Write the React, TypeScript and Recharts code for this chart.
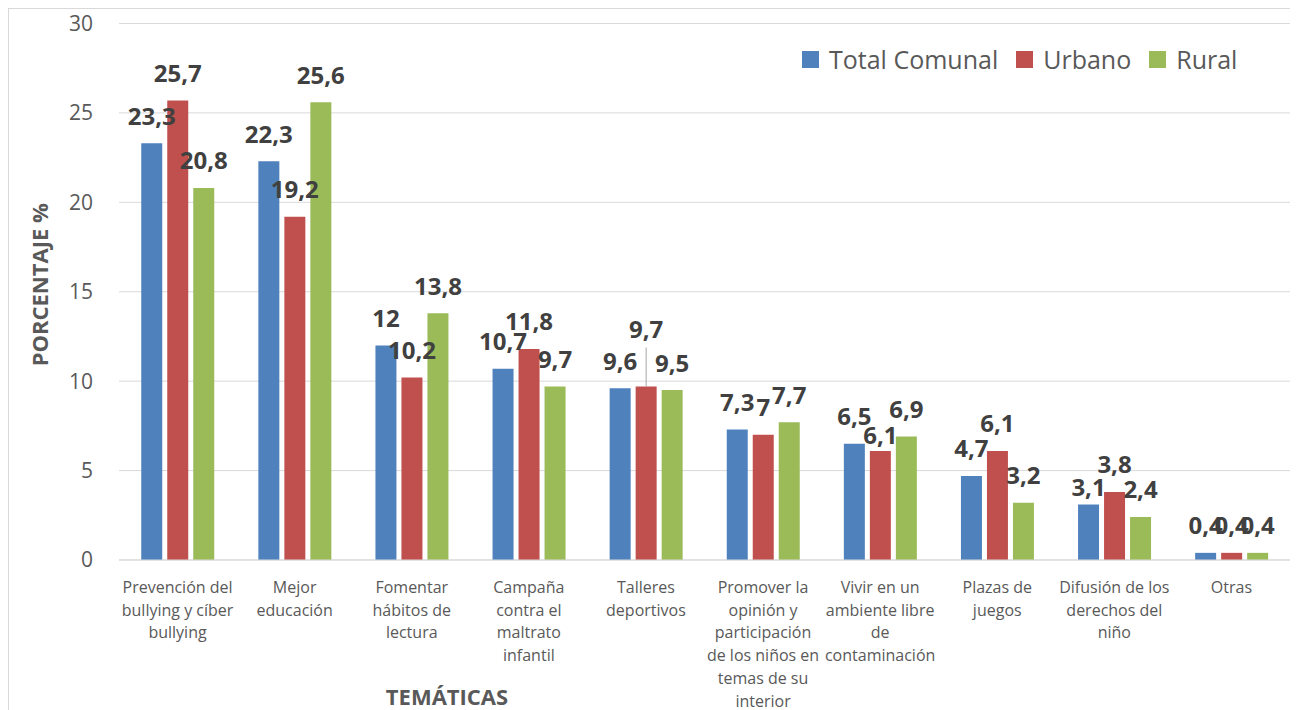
import { BarChart, Bar, XAxis, YAxis, CartesianGrid, LabelList, Label } from 'recharts';

const categories = [
  'Prevención del\nbullying y cíber\nbullying',
  'Mejor\neducación',
  'Fomentar\nhábitos de\nlectura',
  'Campaña\ncontra el\nmaltrato\ninfantil',
  'Talleres\ndeportivos',
  'Promover la\nopinión y\nparticipación\nde los niños en\ntemas de su\ninterior',
  'Vivir en un\nambiente libre\nde\ncontaminación',
  'Plazas de\njuegos',
  'Difusión de los\nderechos del\nniño',
  'Otras',
];

const totalComunal = [23.3, 22.3, 12, 10.7, 9.6, 7.3, 6.5, 4.7, 3.1, 0.4];
const urbano = [25.7, 19.2, 10.2, 11.8, 9.7, 7, 6.1, 6.1, 3.8, 0.4];
const rural = [20.8, 25.6, 13.8, 9.7, 9.5, 7.7, 6.9, 3.2, 2.4, 0.4];

const yTicks = [0, 5, 10, 15, 20, 25, 30];

const data = categories.map((c, i) => ({
  name: c,
  total: totalComunal[i],
  urbano: urbano[i],
  rural: rural[i],
}));

const series = [
  { key: 'total', name: 'Total Comunal', color: '#4F81BD' },
  { key: 'urbano', name: 'Urbano', color: '#C0504D' },
  { key: 'rural', name: 'Rural', color: '#9BBB59' },
];

// labels that were moved by hand in the original (vertical shift, leader line)
const labelShift: Record<string, Record<number, { dy: number; leader?: boolean }>> = {
  urbano: { 4: { dy: -30, leader: true }, 6: { dy: 12 } },
  total: { 8: { dy: 10 } },
};

const FONT = '"Open Sans", "Noto Sans", sans-serif';
const fmt = (v: number) => String(v).replace('.', ',');

const makeLabel = (key: string) => (props: any) => {
  const { x, y, width, value, index } = props;
  const s = labelShift[key]?.[index];
  const cx = x + width / 2;
  const cy = y - 27 + (s ? s.dy : 0);
  return (
    <g>
      {s?.leader && <line x1={cx} x2={cx} y1={cy + 18} y2={y} stroke="#A6A6A6" strokeWidth={1} />}
      <text
        x={cx}
        y={cy}
        dy="0.35em"
        textAnchor="middle"
        fontFamily={FONT}
        fontWeight={700}
        fontSize={24}
        fill="#404040"
      >
        {fmt(value)}
      </text>
    </g>
  );
};

const CategoryTick = (props: any) => {
  const { x, y, payload } = props;
  const lines = String(payload.value).split('\n');
  return (
    <text x={x} y={y} textAnchor="middle" fontFamily={FONT} fontSize={16} fill="#595959">
      {lines.map((l, i) => (
        <tspan key={i} x={x} y={y + 33 + i * 22.7}>
          {l}
        </tspan>
      ))}
    </text>
  );
};

export default function App() {
  return (
    <div
      style={{
        width: 1282,
        height: 702,
        borderTop: '1px solid #D9D9D9',
        borderLeft: '1px solid #D9D9D9',
        borderRight: '1px solid #D9D9D9',
        position: 'relative',
        background: '#fff',
      }}
    >
      <BarChart
        width={1282}
        height={701}
        data={data}
        margin={{ top: 14.5, right: 1, bottom: 0, left: 0 }}
        barGap={5}
        barCategoryGap="19%"
      >
        <CartesianGrid vertical={false} stroke="#D9D9D9" />
        <XAxis
          dataKey="name"
          height={150}
          interval={0}
          tickLine={false}
          tickSize={0}
          tickMargin={0}
          axisLine={{ stroke: '#D9D9D9' }}
          tick={<CategoryTick />}
        >
          <Label
            content={({ viewBox }: any) => (
              <text
                x={viewBox.x + 328}
                y={viewBox.y + 137}
                dy="0.35em"
                textAnchor="middle"
                fontFamily={FONT}
                fontWeight={700}
                fontSize={22}
                fill="#595959"
              >
                TEMÁTICAS
              </text>
            )}
          />
        </XAxis>
        <YAxis
          width={110}
          domain={[0, 30]}
          ticks={yTicks}
          axisLine={false}
          tickLine={false}
          tickSize={6}
          tickMargin={20}
          tick={{ fontFamily: FONT, fontSize: 21, fill: '#595959' }}
        >
          <Label
            content={({ viewBox }: any) => {
              const cx = 31;
              const cy = viewBox.y + viewBox.height / 2 - 7;
              return (
                <text
                  x={cx}
                  y={cy}
                  dy="0.35em"
                  textAnchor="middle"
                  transform={`rotate(-90, ${cx}, ${cy})`}
                  fontFamily={FONT}
                  fontWeight={700}
                  fontSize={22}
                  fill="#595959"
                >
                  PORCENTAJE %
                </text>
              );
            }}
          />
        </YAxis>
        {series.map((s) => (
          <Bar key={s.key} dataKey={s.key} name={s.name} fill={s.color} isAnimationActive={false}>
            <LabelList dataKey={s.key} content={makeLabel(s.key)} />
          </Bar>
        ))}
      </BarChart>
      {/* legend drawn outside the chart so it does not push the plot down */}
      <div
        style={{
          position: 'absolute',
          top: 33,
          left: 793,
          display: 'flex',
          alignItems: 'center',
          fontFamily: FONT,
          fontSize: 25,
          color: '#595959',
        }}
      >
        {series.map((s) => (
          <div key={s.key} style={{ display: 'flex', alignItems: 'center', marginRight: 18 }}>
            <span style={{ width: 17, height: 17, background: s.color, marginRight: 10, display: 'inline-block' }} />
            <span>{s.name}</span>
          </div>
        ))}
      </div>
    </div>
  );
}
